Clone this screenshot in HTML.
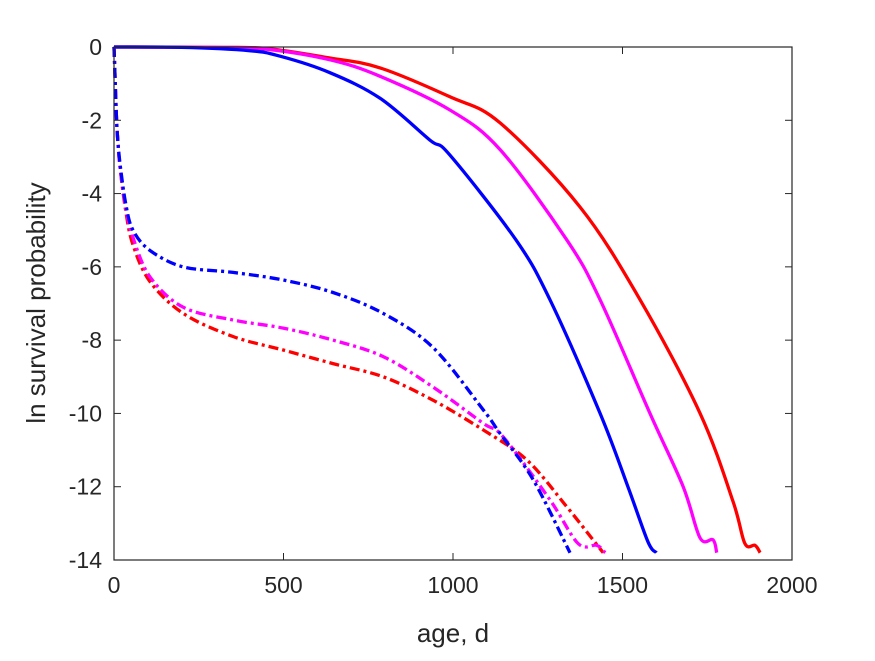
<!DOCTYPE html>
<html><head><meta charset="utf-8"><style>
body{margin:0;background:#fff}
svg text{font-family:"Liberation Sans",sans-serif;fill:#262626}
</style></head><body>
<svg id="chart" width="875" height="656" viewBox="0 0 875 656" xmlns="http://www.w3.org/2000/svg">
<rect width="875" height="656" fill="#fff"/>
<g id="plot"></g>
<g id="axes"></g>
</svg>
<script>
const xTicks=[0,500,1000,1500,2000];
const yTicks=[0,-2,-4,-6,-8,-10,-12,-14];
const blueSolidX=[0,200,400,490,637,785,932,991,1186,1286,1434,1516,1575,1600];
const blueSolidY=[0,-0.01,-0.1,-0.25,-0.7,-1.4,-2.54,-2.95,-5.27,-6.9,-10,-12,-13.5,-13.8];
const magSolidX=[0,300,450,637,785,991,1139,1336,1434,1581,1679,1729,1767,1778];
const magSolidY=[0,-0.01,-0.06,-0.35,-0.8,-1.72,-2.8,-5.27,-6.9,-10,-12,-13.4,-13.45,-13.8];
const redSolidX=[0,300,450,637,785,991,1139,1375,1552,1729,1826,1861,1891,1906];
const redSolidY=[0,-0.01,-0.04,-0.3,-0.57,-1.36,-2.07,-4.37,-6.9,-10,-12.4,-13.55,-13.6,-13.8];
const blueDashX=[0,3,6,10,18,35,56,106,204,351,499,646,794,941,1089,1139,1236,1345];
const blueDashY=[0,-0.8,-1.6,-2.4,-3.2,-4.3,-5.0,-5.55,-6.0,-6.15,-6.36,-6.7,-7.27,-8.2,-9.9,-10.55,-11.8,-13.8];
const magDashX=[0,3,6,10,18,35,56,106,204,351,499,646,794,941,1089,1148,1286,1369,1424,1449];
const magDashY=[0,-0.8,-1.6,-2.4,-3.3,-4.4,-5.2,-6.27,-7.1,-7.45,-7.67,-8.0,-8.45,-9.28,-10.27,-10.64,-12.36,-13.55,-13.6,-13.8];
const redDashX=[0,3,6,10,18,35,56,106,204,351,499,646,794,941,1089,1218,1336,1413,1443];
const redDashY=[0,-0.8,-1.6,-2.4,-3.3,-4.5,-5.4,-6.4,-7.27,-7.9,-8.27,-8.64,-9.0,-9.64,-10.45,-11.27,-12.55,-13.45,-13.8];
const L=114,R=792,T=47,B=560;
const sx=v=>L+(v-0)/2000*(R-L);
const sy=v=>T+(0-v)/14*(B-T);
const NS="http://www.w3.org/2000/svg";
const plot=document.getElementById('plot'),axes=document.getElementById('axes');
function mk(tag,attrs,parent){const e=document.createElementNS(NS,tag);for(const k in attrs)e.setAttribute(k,attrs[k]);parent.appendChild(e);return e;}
function smoothPath(xs,ys){
  const P=xs.map((x,i)=>[sx(x),sy(ys[i])]);
  let d='M'+P[0][0].toFixed(1)+','+P[0][1].toFixed(1);
  for(let i=0;i<P.length-1;i++){
    const p0=P[Math.max(0,i-1)],p1=P[i],p2=P[i+1],p3=P[Math.min(P.length-1,i+2)];
    const c1=[p1[0]+(p2[0]-p0[0])/6,p1[1]+(p2[1]-p0[1])/6];
    const c2=[p2[0]-(p3[0]-p1[0])/6,p2[1]-(p3[1]-p1[1])/6];
    d+='C'+c1[0].toFixed(1)+','+c1[1].toFixed(1)+' '+c2[0].toFixed(1)+','+c2[1].toFixed(1)+' '+p2[0].toFixed(1)+','+p2[1].toFixed(1);
  }
  return d;
}
function line(xs,ys,color,dash,name){
  const p=mk('path',{d:smoothPath(xs,ys),fill:'none',stroke:color,'stroke-width':3.3,'stroke-linejoin':'round'},plot);
  if(dash)p.setAttribute('stroke-dasharray','10,4,3,4');
  
  
}
line(redDashX,redDashY,'#ff0000',true,'red-dashdot-line');
line(magDashX,magDashY,'#ff00ff',true,'magenta-dashdot-line');
line(blueDashX,blueDashY,'#0000ff',true,'blue-dashdot-line');
line(redSolidX,redSolidY,'#ff0000',false,'red-solid-line');
line(magSolidX,magSolidY,'#ff00ff',false,'magenta-solid-line');
line(blueSolidX,blueSolidY,'#0000ff',false,'blue-solid-line');
const box=mk('rect',{x:L,y:T,width:R-L,height:B-T,fill:'none',stroke:'#262626','stroke-width':1.2},axes);


xTicks.forEach(v=>{
  const x=sx(v);
  mk('line',{x1:x,y1:B,x2:x,y2:B-7,stroke:'#262626'},axes);
  mk('line',{x1:x,y1:T,x2:x,y2:T+7,stroke:'#262626'},axes);
  const t=mk('text',{x:x,y:B+33,'text-anchor':'middle','font-size':23},axes);
  t.textContent=v;
  
  
});
yTicks.forEach(v=>{
  const y=sy(v);
  mk('line',{x1:L,y1:y,x2:L+7,y2:y,stroke:'#262626'},axes);
  mk('line',{x1:R,y1:y,x2:R-7,y2:y,stroke:'#262626'},axes);
  const t=mk('text',{x:L-12,y:y+8,'text-anchor':'end','font-size':23},axes);
  t.textContent=v;
  
  
});
const xt=mk('text',{x:(L+R)/2,y:642,'text-anchor':'middle','font-size':26},axes);
xt.textContent='age, d';


const yt=mk('text',{x:0,y:0,'text-anchor':'middle','font-size':26,transform:'translate(45,303) rotate(-90)'},axes);
yt.textContent='ln survival probability';


</script>
</body></html>
